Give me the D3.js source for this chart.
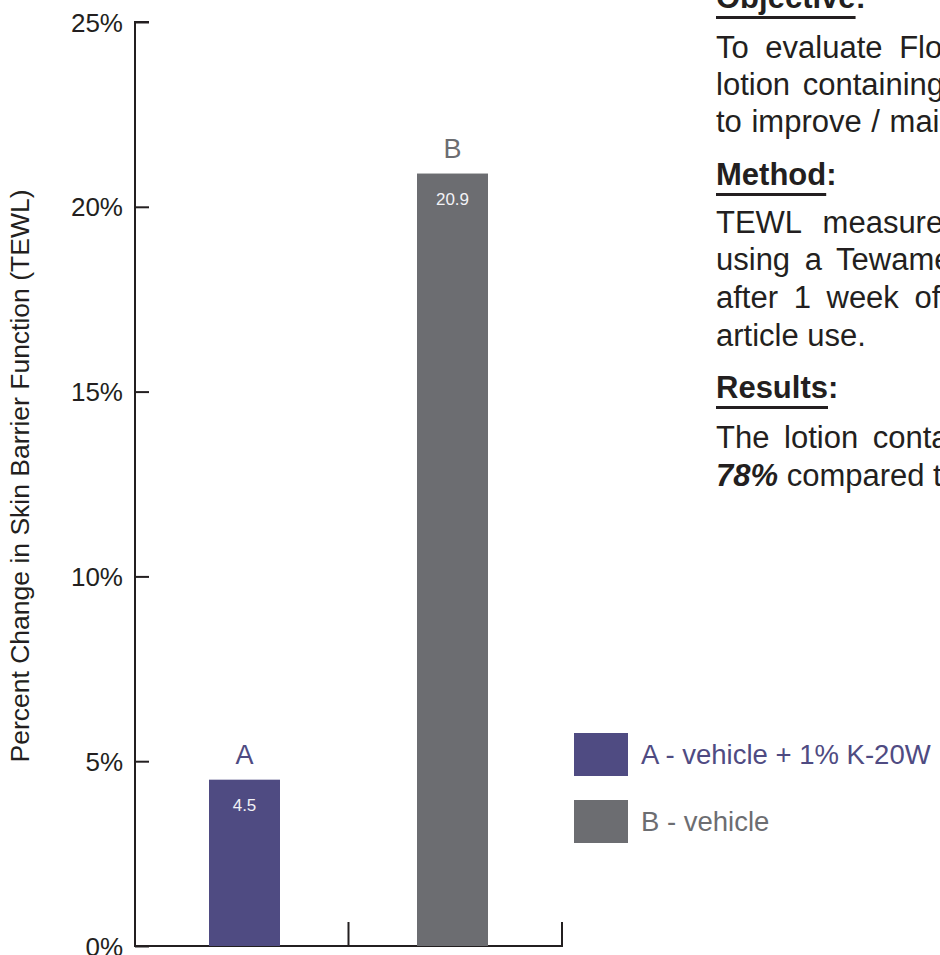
<!DOCTYPE html>
<html>
<head>
<meta charset="utf-8">
<script src="https://cdn.jsdelivr.net/npm/d3@7"></script>
<style>
  html, body { margin: 0; padding: 0; background: #fff; overflow: hidden; }
  svg { display: block; font-family: "Liberation Sans", Arial, Helvetica, sans-serif; }
</style>
</head>
<body>
<svg id="chart" width="940" height="955"></svg>
<script>
// ---- data ----
const categories = ["A", "B"];
const values = [4.5, 20.9];
const valueLabels = ["4.5", "20.9"];
const yTicks = [0, 5, 10, 15, 20, 25];
const yTickLabels = ["0%", "5%", "10%", "15%", "20%", "25%"];
const legendLabels = ["A - vehicle + 1% K-20W", "B - vehicle"];
const yTitle = "Percent Change in Skin Barrier Function (TEWL)";

const objectiveHeading = "Objective";
const objectiveLines = [
  "To evaluate Floraesters K-20W Jojoba in a",
  "lotion containing 1% for its ability",
  "to improve / maintain skin barrier function."
];
const methodHeading = "Method";
const methodLines = [
  "TEWL measurements were taken",
  "using a Tewameter® before and",
  "after 1 week of twice daily test",
  "article use."
];
const resultsHeading = "Results";
const resultsLine1 = "The lotion containing K-20W reduced TEWL by";
const resultsBold = "78%";
const resultsRest = " compared to the vehicle alone.";

// ---- styles ----
const barColors = ["#4f4b82", "#6c6d71"];
const ink = "#231f20";

const svg = d3.select("#chart");

const y = d3.scaleLinear().domain([0, 25]).range([946, 22]);
const xAxisBand = d3.scaleBand().domain(categories).range([135, 562]).padding(0);
const xBar = d3.scaleBand().domain(categories).range([135, 562])
  .paddingInner(0.6587).paddingOuter(0.3558);

// y axis
const yAxis = d3.axisLeft(y).tickValues(yTicks)
  .tickFormat((d, i) => yTickLabels[i]).tickSize(-14).tickPadding(12);
const gy = svg.append("g").attr("transform", "translate(135,0)").call(yAxis);
gy.select(".domain").attr("d", `M14,${y(25)}H0V${y(0)}`)
  .attr("stroke", ink).attr("stroke-width", 2).attr("fill", "none");
gy.selectAll(".tick line").attr("stroke", ink).attr("stroke-width", 2);
gy.selectAll(".tick text").attr("fill", ink).attr("font-size", 26)
  .attr("font-family", "Liberation Sans, Arial, sans-serif").attr("dy", "0.35em");

// x axis (baseline with separators)
const gx = svg.append("g");
gx.append("line").attr("x1", 134).attr("x2", xAxisBand.range()[1] + 1)
  .attr("y1", y(0)).attr("y2", y(0)).attr("stroke", ink).attr("stroke-width", 2);
gx.selectAll("line.sep").data(categories).join("line").attr("class", "sep")
  .attr("x1", d => xAxisBand(d) + xAxisBand.bandwidth())
  .attr("x2", d => xAxisBand(d) + xAxisBand.bandwidth())
  .attr("y1", y(0)).attr("y2", y(0) - 24)
  .attr("stroke", ink).attr("stroke-width", 2);

// bars
svg.selectAll("rect.bar").data(categories).join("rect").attr("class", "bar")
  .attr("x", d => xBar(d)).attr("width", xBar.bandwidth())
  .attr("y", (d, i) => y(values[i])).attr("height", (d, i) => y(0) - y(values[i]))
  .attr("fill", (d, i) => barColors[i]);

// category labels above bars
svg.selectAll("text.cat").data(categories).join("text").attr("class", "cat")
  .attr("x", d => xBar(d) + xBar.bandwidth() / 2)
  .attr("y", (d, i) => y(values[i]) - 16)
  .attr("text-anchor", "middle").attr("font-size", 27)
  .attr("fill", (d, i) => barColors[i]).text(d => d);

// value labels inside bars
svg.selectAll("text.val").data(categories).join("text").attr("class", "val")
  .attr("x", d => xBar(d) + xBar.bandwidth() / 2)
  .attr("y", (d, i) => y(values[i]) + 31)
  .attr("text-anchor", "middle").attr("font-size", 17)
  .attr("fill", "#f2f2f6").text((d, i) => valueLabels[i]);

// y title
svg.append("text").attr("transform", "translate(29,476) rotate(-90)")
  .attr("text-anchor", "middle").attr("font-size", 26.5).attr("fill", ink)
  .text(yTitle);

// legend
const lg = svg.append("g");
const legendY = [733, 800];
categories.forEach((c, i) => {
  lg.append("rect").attr("x", 574).attr("y", legendY[i]).attr("width", 54).attr("height", 43)
    .attr("fill", barColors[i]);
  lg.append("text").attr("x", 641).attr("y", legendY[i] + 21.5).attr("dy", "0.35em")
    .attr("font-size", 27.5).attr("fill", barColors[i]).text(legendLabels[i]);
});

// right text block
const tx = 716;
const fs = 31;
function heading(label, baseline) {
  const t = svg.append("text").attr("x", tx).attr("y", baseline).attr("font-size", fs)
    .attr("font-weight", "bold").attr("fill", ink).text(label);
  const w = t.node().getComputedTextLength();
  svg.append("text").attr("x", tx + w).attr("y", baseline).attr("font-size", fs)
    .attr("font-weight", "bold").attr("fill", ink).text(":");
  svg.append("rect").attr("x", tx).attr("y", baseline + 8).attr("width", w).attr("height", 3)
    .attr("fill", ink);
}
function bodyLine(str, baseline, ws) {
  return svg.append("text").attr("x", tx).attr("y", baseline).attr("font-size", fs)
    .attr("fill", ink).attr("word-spacing", ws).text(str);
}
heading(objectiveHeading, 8);
const objBase = [58, 95, 132];
const objWs = [8, 4, 1];
objectiveLines.forEach((l, i) => bodyLine(l, objBase[i], objWs[i]));

heading(methodHeading, 185);
const methBase = [233, 270, 308, 346];
const methWs = [13, 6, 7, 0];
methodLines.forEach((l, i) => bodyLine(l, methBase[i], methWs[i]));

heading(resultsHeading, 398);
bodyLine(resultsLine1, 448, 6);
const r2 = svg.append("text").attr("x", tx).attr("y", 486).attr("font-size", fs).attr("fill", ink);
r2.append("tspan").attr("font-weight", "bold").attr("font-style", "italic").text(resultsBold);
r2.append("tspan").text(resultsRest);
</script>
</body>
</html>
